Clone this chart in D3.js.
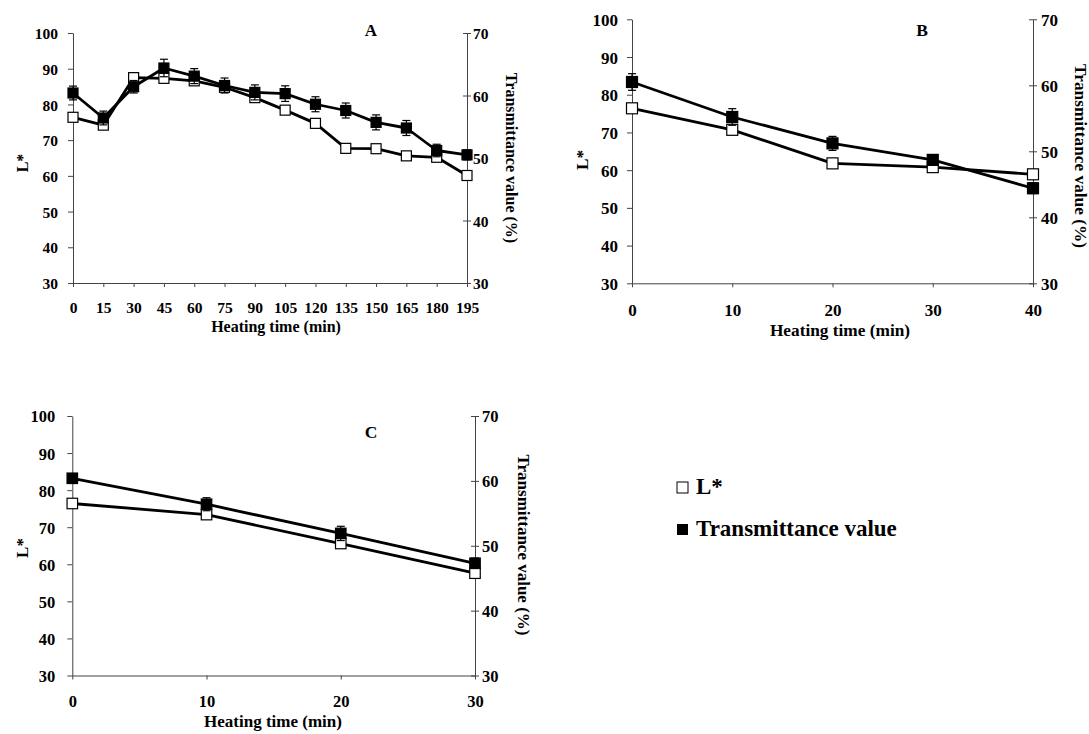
<!DOCTYPE html>
<html><head><meta charset="utf-8">
<script src="https://cdn.jsdelivr.net/npm/d3@7/dist/d3.min.js"></script>
<style>body{margin:0;background:#fff}svg{display:block}text{font-family:"Liberation Serif","Times New Roman",serif;font-weight:bold;fill:#000}</style>
</head><body>
<svg id="c" width="1089" height="734"></svg>
<script>
// ---- data ----
const timeA = [0,15,30,45,60,75,90,105,120,135,150,165,180,195];
const lstarA = [76.4,74.2,87.5,87.3,86.6,84.8,81.9,78.4,74.7,67.7,67.6,65.6,65.2,60.1];
const lstarErrA = [0.8,0.8,1.4,1.0,0.8,0.8,0.8,0.6,0.6,0.6,0.6,0.6,0.6,0.6];
const transA = [60.4,56.4,61.4,64.4,63.1,61.6,60.5,60.3,58.6,57.6,55.7,54.8,51.2,50.5];
const transErrA = [1.1,1.1,1.0,1.4,1.2,1.2,1.2,1.25,1.2,1.2,1.2,1.2,1.0,0.8];

const timeB = [0,10,20,30,40];
const lstarB = [76.4,70.7,61.8,60.8,58.9];
const lstarErrB = [0.6,0.6,0.5,0.5,0.5];
const transB = [60.5,55.2,51.2,48.7,44.4];
const transErrB = [1.26,1.26,1.06,0.7,0.8];

const timeC = [0,10,20,30];
const lstarC = [76.4,73.4,65.6,57.6];
const lstarErrC = [0.6,0.7,0.8,0.6];
const transC = [60.4,56.4,51.9,47.3];
const transErrC = [0.5,1.0,1.1,0.8];

const leftTicks = [30,40,50,60,70,80,90,100];
const rightTicks = [30,40,50,60,70];
const xTicksA = timeA;
const xTicksB = [0,10,20,30,40];
const xTicksC = [0,10,20,30];
const panelLabels = ["A","B","C"];
const xTitle = "Heating time (min)";
const leftTitle = "L*";
const rightTitle = "Transmittance value (%)";
const legendLabels = ["L*","Transmittance value"];

// ---- layout ----
const panels = [
  {t:timeA,l:lstarA,le:lstarErrA,tr:transA,te:transErrA,xt:xTicksA,xmax:195,lab:panelLabels[0],
   x0:73,x1:467,top:33,bot:283,tick:15.5,title:16,ms:10,labX:371,labY:36,
   xtY:30,ylGap:15,yrGap:6,xtitleX:276,xtitleY:332,ltX:22,ltY:163,rtX:511,rtY:158,labSize:17},
  {t:timeB,l:lstarB,le:lstarErrB,tr:transB,te:transErrB,xt:xTicksB,xmax:40,lab:panelLabels[1],
   x0:632,x1:1033,top:19.3,bot:283.3,tick:17,title:17.3,ms:11,labX:922,labY:36,
   xtY:33,ylGap:14,yrGap:8,xtitleX:840,xtitleY:336,ltX:582,ltY:160,rtX:1080,rtY:156,labSize:17.5},
  {t:timeC,l:lstarC,le:lstarErrC,tr:transC,te:transErrC,xt:xTicksC,xmax:30,lab:panelLabels[2],
   x0:72.3,x1:475,top:416,bot:675.5,tick:16.5,title:17,ms:10.5,labX:371,labY:438,
   xtY:31.5,ylGap:17,yrGap:7,xtitleX:273,xtitleY:727,ltX:22,ltY:548,rtX:523,rtY:545,labSize:17.5}
];

const svg = d3.select("#c");
const axisCol = "#444";

panels.forEach(p => {
  const g = svg.append("g");
  const x = d3.scaleLinear().domain([0,p.xmax]).range([p.x0,p.x1]);
  const yl = d3.scaleLinear().domain([30,100]).range([p.bot,p.top]);
  const yr = d3.scaleLinear().domain([30,70]).range([p.bot,p.top]);

  // x axis
  const xa = g.append("g").attr("transform",`translate(0,${p.bot})`)
    .call(d3.axisBottom(x).tickValues(p.xt).tickSizeInner(4).tickSizeOuter(0).tickFormat(d3.format("d")));
  xa.select(".domain").attr("stroke",axisCol);
  xa.selectAll(".tick line").attr("stroke",axisCol);
  xa.selectAll(".tick text").attr("y",p.xtY).attr("dy",0).style("font-size",p.tick+"px");

  // left axis
  const la = g.append("g").attr("transform",`translate(${p.x0},0)`)
    .call(d3.axisLeft(yl).tickValues(leftTicks).tickSizeInner(5).tickSizeOuter(0).tickPadding(p.ylGap-5));
  la.select(".domain").attr("stroke",axisCol);
  la.selectAll(".tick line").attr("stroke",axisCol);
  la.selectAll(".tick text").attr("dy","0.36em").style("font-size",p.tick+"px");

  // right axis (ticks cross)
  const ra = g.append("g").attr("transform",`translate(${p.x1},0)`)
    .call(d3.axisRight(yr).tickValues(rightTicks).tickSizeInner(4).tickSizeOuter(0).tickPadding(p.yrGap-4));
  ra.select(".domain").attr("stroke",axisCol);
  ra.selectAll(".tick line").attr("stroke",axisCol).attr("x1",-4);
  ra.selectAll(".tick text").attr("dy","0.36em").style("font-size",p.tick+"px");

  g.selectAll(".tick text").style("font-family",'"Liberation Serif",serif').style("font-weight","bold").attr("fill","#000");

  // titles
  g.append("text").attr("x",p.xtitleX).attr("y",p.xtitleY).attr("text-anchor","middle")
    .style("font-size",p.title+"px").text(xTitle);
  g.append("text").attr("transform",`translate(${p.ltX},${p.ltY}) rotate(-90)`).attr("text-anchor","middle")
    .attr("dominant-baseline","central").style("font-size",p.title+"px").text(leftTitle);
  g.append("text").attr("transform",`translate(${p.rtX},${p.rtY}) rotate(90)`).attr("text-anchor","middle")
    .attr("dominant-baseline","central").style("font-size",p.title+"px").text(rightTitle);
  g.append("text").attr("x",p.labX).attr("y",p.labY).attr("text-anchor","middle")
    .style("font-size",p.labSize+"px").text(p.lab);

  const series = [
    {v:p.l,e:p.le,y:yl,fill:"#fff"},
    {v:p.tr,e:p.te,y:yr,fill:"#000"}
  ];
  series.forEach(s => {
    const pts = p.t.map((t,i)=>({t,v:s.v[i],e:s.e[i]}));
    g.append("path").datum(pts).attr("fill","none").attr("stroke","#000").attr("stroke-width",2.8)
      .attr("stroke-linejoin","round")
      .attr("d",d3.line().x(d=>x(d.t)).y(d=>s.y(d.v)));
  });
  series.forEach(s => {
    const pts = p.t.map((t,i)=>({t,v:s.v[i],e:s.e[i]}));
    const eb = g.append("g").attr("stroke","#000").attr("stroke-width",1.2);
    pts.forEach(d => {
      const cx = x(d.t), ya = s.y(d.v+d.e), yb = s.y(d.v-d.e);
      eb.append("line").attr("x1",cx).attr("x2",cx).attr("y1",ya).attr("y2",yb);
      eb.append("line").attr("x1",cx-4).attr("x2",cx+4).attr("y1",ya).attr("y2",ya);
      eb.append("line").attr("x1",cx-4).attr("x2",cx+4).attr("y1",yb).attr("y2",yb);
    });
    g.append("g").selectAll("rect").data(pts).join("rect")
      .attr("x",d=>x(d.t)-p.ms/2).attr("y",d=>s.y(d.v)-p.ms/2)
      .attr("width",p.ms).attr("height",p.ms)
      .attr("fill",s.fill).attr("stroke","#000").attr("stroke-width",1.2);
  });
});

// legend
const lg = svg.append("g");
lg.append("rect").attr("x",677).attr("y",482).attr("width",11).attr("height",11)
  .attr("fill","#fff").attr("stroke","#000").attr("stroke-width",1);
lg.append("text").attr("x",696).attr("y",494).style("font-size","23px").text(legendLabels[0]);
lg.append("rect").attr("x",677).attr("y",524).attr("width",11).attr("height",11).attr("fill","#000");
lg.append("text").attr("x",696).attr("y",536).style("font-size","23px").text(legendLabels[1]);
</script>
</body></html>
